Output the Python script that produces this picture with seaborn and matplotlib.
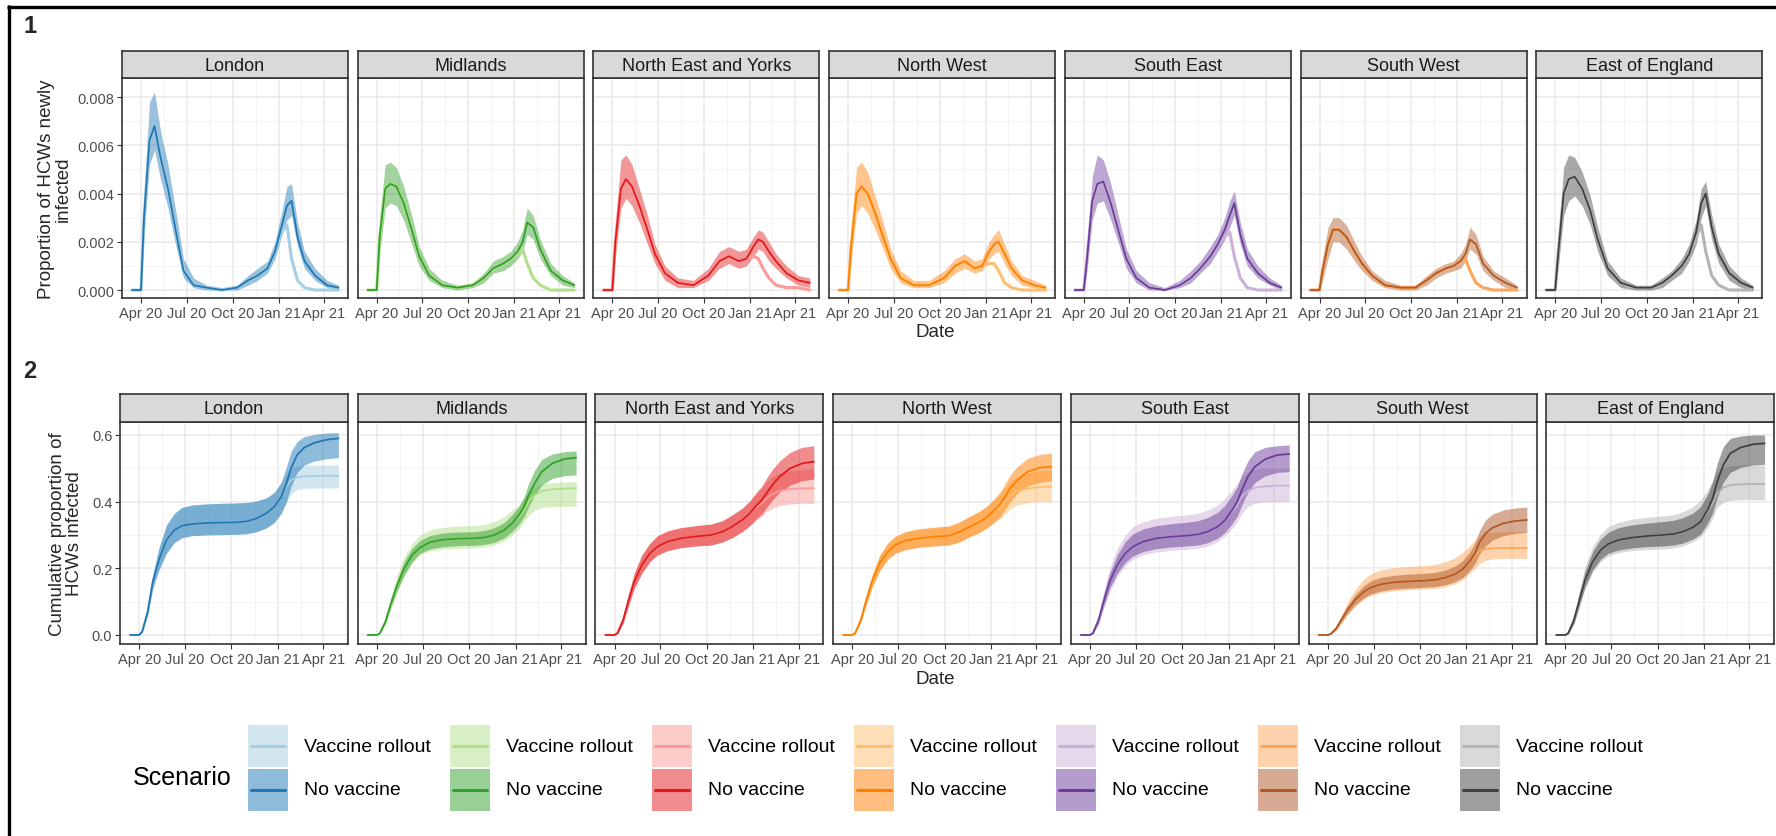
import matplotlib
matplotlib.use("Agg")
import matplotlib.pyplot as plt
import matplotlib.dates as mdates
from matplotlib.ticker import FixedLocator, FormatStrFormatter
from matplotlib.patches import Rectangle
import seaborn as sns
import pandas as pd

sns.set_theme(style="whitegrid")
plt.rcParams['font.family'] = ['Liberation Sans', 'DejaVu Sans']

# ---- data ----
DATES = ["2020-03-14", "2020-04-01", "2020-04-07", "2020-04-18", "2020-04-28", "2020-05-10",
         "2020-05-25", "2020-06-10", "2020-06-25", "2020-07-15", "2020-08-10", "2020-09-10",
         "2020-10-10", "2020-11-01", "2020-11-20", "2020-12-10", "2020-12-25", "2021-01-08",
         "2021-01-18", "2021-01-27", "2021-02-08", "2021-02-22", "2021-03-15", "2021-04-08",
         "2021-05-01"]

REGIONS = ["London", "Midlands", "North East and Yorks", "North West",
           "South East", "South West", "East of England"]
NV_COLORS = ["#1f78b4", "#33a02c", "#e31a1c", "#ff7f00", "#6a3d9a", "#b15928", "#404040"]
VR_COLORS = ["#a6cee3", "#b2df8a", "#fb9a99", "#fdbf6f", "#cab2d6", "#fda65a", "#b4b4b4"]
SCENARIOS = ["Vaccine rollout", "No vaccine"]

# proportion newly infected (no vaccine median + band, vaccine rollout median)
LON_NEW = [0, 0, 0.0030, 0.0062, 0.0068, 0.0055, 0.0042, 0.0024, 0.0008, 0.0002, 0.0001, 0.0, 0.0001,
           0.0004, 0.0006, 0.0009, 0.0016, 0.0027, 0.0035, 0.0037, 0.0022, 0.0012, 0.0006, 0.0002, 0.0001]
LON_NEW_HI = [0, 0, 0.0040, 0.0078, 0.0082, 0.0066, 0.0052, 0.0032, 0.0013, 0.0005, 0.0002, 0.0001, 0.0002,
              0.0006, 0.0009, 0.0012, 0.0020, 0.0033, 0.0043, 0.0044, 0.0028, 0.0016, 0.0009, 0.0004, 0.0002]
LON_NEW_LO = [0, 0, 0.0022, 0.0052, 0.0058, 0.0046, 0.0034, 0.0018, 0.0005, 0.0001, 0, 0, 0,
              0.0002, 0.0004, 0.0007, 0.0013, 0.0023, 0.0029, 0.0031, 0.0018, 0.0009, 0.0004, 0.0001, 0]
LON_NEW_VAX = LON_NEW[:17] + [0.0024, 0.0027, 0.0013, 0.0004, 0.0001, 0, 0, 0]

MID_NEW = [0, 0, 0.0022, 0.0042, 0.0044, 0.0043, 0.0036, 0.0025, 0.0014, 0.0006, 0.0002, 0.0001, 0.0002,
           0.0005, 0.0009, 0.0011, 0.0013, 0.0016, 0.0020, 0.0028, 0.0026, 0.0017, 0.0008, 0.0004, 0.0002]
MID_NEW_HI = [0, 0, 0.0030, 0.0052, 0.0053, 0.0051, 0.0043, 0.0031, 0.0018, 0.0009, 0.0004, 0.0002, 0.0003,
              0.0007, 0.0012, 0.0014, 0.0016, 0.0020, 0.0025, 0.0034, 0.0031, 0.0021, 0.0011, 0.0006, 0.0003]
MID_NEW_LO = [0, 0, 0.0015, 0.0034, 0.0036, 0.0035, 0.0029, 0.0019, 0.0010, 0.0004, 0.0001, 0, 0.0001,
              0.0003, 0.0007, 0.0008, 0.0010, 0.0013, 0.0016, 0.0023, 0.0021, 0.0013, 0.0006, 0.0002, 0.0001]
MID_NEW_VAX = MID_NEW[:17] + [0.0015, 0.0017, 0.0011, 0.0005, 0.0002, 0, 0, 0]

NEY_NEW = [0, 0, 0.0020, 0.0042, 0.0046, 0.0043, 0.0035, 0.0025, 0.0015, 0.0007, 0.0003, 0.0002, 0.0006,
           0.0012, 0.0014, 0.0012, 0.0013, 0.0018, 0.0021, 0.0020, 0.0016, 0.0012, 0.0007, 0.0004, 0.0003]
NEY_NEW_HI = [0, 0, 0.0028, 0.0054, 0.0056, 0.0052, 0.0042, 0.0031, 0.0019, 0.0010, 0.0005, 0.0004, 0.0009,
              0.0016, 0.0018, 0.0016, 0.0017, 0.0022, 0.0025, 0.0024, 0.0020, 0.0015, 0.0010, 0.0006, 0.0005]
NEY_NEW_LO = [0, 0, 0.0014, 0.0034, 0.0038, 0.0035, 0.0028, 0.0019, 0.0011, 0.0004, 0.0001, 0.0001, 0.0004,
              0.0009, 0.0011, 0.0009, 0.0010, 0.0014, 0.0017, 0.0016, 0.0012, 0.0009, 0.0005, 0.0002, 0.0001]
NEY_NEW_VAX = NEY_NEW[:17] + [0.0014, 0.0013, 0.0009, 0.0005, 0.0002, 0.0001, 0.0001, 0]

NW_NEW = [0, 0, 0.0018, 0.0040, 0.0043, 0.0040, 0.0032, 0.0022, 0.0013, 0.0005, 0.0002, 0.0002, 0.0005,
          0.0010, 0.0012, 0.0009, 0.0010, 0.0016, 0.0019, 0.0020, 0.0015, 0.0009, 0.0004, 0.0002, 0.0001]
NW_NEW_HI = [0, 0, 0.0026, 0.0051, 0.0053, 0.0049, 0.0039, 0.0028, 0.0017, 0.0008, 0.0004, 0.0004, 0.0008,
             0.0013, 0.0015, 0.0012, 0.0013, 0.0020, 0.0023, 0.0025, 0.0019, 0.0012, 0.0006, 0.0004, 0.0002]
NW_NEW_LO = [0, 0, 0.0012, 0.0032, 0.0035, 0.0032, 0.0025, 0.0017, 0.0009, 0.0003, 0.0001, 0.0001, 0.0003,
             0.0007, 0.0009, 0.0007, 0.0008, 0.0013, 0.0015, 0.0016, 0.0011, 0.0006, 0.0002, 0.0001, 0]
NW_NEW_VAX = NW_NEW[:17] + [0.0011, 0.0011, 0.0008, 0.0003, 0.0001, 0, 0, 0]

SE_NEW = [0, 0, 0.0012, 0.0037, 0.0044, 0.0045, 0.0036, 0.0024, 0.0013, 0.0005, 0.0001, 0, 0.0002,
          0.0005, 0.0009, 0.0014, 0.0019, 0.0025, 0.0031, 0.0036, 0.0023, 0.0013, 0.0007, 0.0003, 0.0001]
SE_NEW_HI = [0, 0, 0.0018, 0.0047, 0.0056, 0.0054, 0.0044, 0.0030, 0.0017, 0.0008, 0.0003, 0.0001, 0.0004,
             0.0008, 0.0012, 0.0018, 0.0023, 0.0030, 0.0037, 0.0041, 0.0028, 0.0017, 0.0010, 0.0005, 0.0002]
SE_NEW_LO = [0, 0, 0.0007, 0.0029, 0.0036, 0.0037, 0.0029, 0.0019, 0.0009, 0.0003, 0, 0, 0.0001,
             0.0003, 0.0007, 0.0011, 0.0016, 0.0021, 0.0026, 0.0031, 0.0019, 0.0010, 0.0005, 0.0002, 0]
SE_NEW_VAX = SE_NEW[:17] + [0.0022, 0.0024, 0.0014, 0.0005, 0.0001, 0, 0, 0]

SW_NEW = [0, 0, 0.0008, 0.0019, 0.0025, 0.0025, 0.0022, 0.0016, 0.0011, 0.0006, 0.0002, 0.0001, 0.0001,
          0.0004, 0.0007, 0.0009, 0.0010, 0.0012, 0.0015, 0.0021, 0.0019, 0.0011, 0.0006, 0.0003, 0.0001]
SW_NEW_HI = [0, 0, 0.0013, 0.0026, 0.0030, 0.0030, 0.0027, 0.0020, 0.0014, 0.0008, 0.0004, 0.0002, 0.0002,
             0.0006, 0.0009, 0.0011, 0.0012, 0.0015, 0.0019, 0.0026, 0.0023, 0.0014, 0.0008, 0.0005, 0.0002]
SW_NEW_LO = [0, 0, 0.0004, 0.0013, 0.0020, 0.0020, 0.0017, 0.0012, 0.0008, 0.0004, 0.0001, 0, 0,
             0.0002, 0.0005, 0.0007, 0.0008, 0.0009, 0.0012, 0.0017, 0.0015, 0.0008, 0.0004, 0.0001, 0]
SW_NEW_VAX = SW_NEW[:17] + [0.0012, 0.0013, 0.0008, 0.0003, 0.0001, 0, 0, 0]

EOE_NEW = [0, 0, 0.0015, 0.0040, 0.0046, 0.0047, 0.0042, 0.0033, 0.0021, 0.0009, 0.0003, 0.0001, 0.0001,
           0.0003, 0.0006, 0.0010, 0.0015, 0.0024, 0.0036, 0.0040, 0.0026, 0.0015, 0.0007, 0.0003, 0.0001]
EOE_NEW_HI = [0, 0, 0.0022, 0.0051, 0.0056, 0.0055, 0.0049, 0.0039, 0.0026, 0.0012, 0.0005, 0.0002, 0.0002,
              0.0005, 0.0008, 0.0013, 0.0019, 0.0029, 0.0042, 0.0045, 0.0031, 0.0019, 0.0010, 0.0005, 0.0002]
EOE_NEW_LO = [0, 0, 0.0009, 0.0031, 0.0037, 0.0039, 0.0035, 0.0027, 0.0016, 0.0006, 0.0001, 0, 0,
              0.0001, 0.0004, 0.0007, 0.0012, 0.0019, 0.0030, 0.0035, 0.0021, 0.0011, 0.0004, 0.0001, 0]
EOE_NEW_VAX = EOE_NEW[:17] + [0.0022, 0.0027, 0.0016, 0.0006, 0.0002, 0, 0, 0]

# cumulative proportion infected
LON_CUM = [0, 0, 0.01, 0.07, 0.16, 0.225, 0.285, 0.315, 0.328, 0.333, 0.336, 0.337, 0.338,
           0.341, 0.35, 0.366, 0.385, 0.415, 0.455, 0.50, 0.54, 0.562, 0.577, 0.586, 0.59]
LON_CUM_LO = [0, 0, 0.008, 0.06, 0.14, 0.195, 0.245, 0.278, 0.292, 0.298, 0.300, 0.301, 0.302,
              0.304, 0.31, 0.322, 0.338, 0.365, 0.40, 0.445, 0.487, 0.51, 0.522, 0.529, 0.532]
LON_CUM_HI = [0, 0, 0.012, 0.08, 0.18, 0.26, 0.33, 0.365, 0.383, 0.39, 0.393, 0.395, 0.396,
              0.398, 0.402, 0.412, 0.428, 0.46, 0.505, 0.55, 0.58, 0.595, 0.602, 0.606, 0.607]
LON_CUM_VAX = LON_CUM[:17] + [0.415, 0.445, 0.465, 0.473, 0.476, 0.477, 0.478, 0.478]
LON_CUM_VAX_LO = LON_CUM_LO[:17] + [0.37, 0.40, 0.423, 0.436, 0.44, 0.441, 0.441, 0.441]
LON_CUM_VAX_HI = LON_CUM_HI[:17] + [0.455, 0.487, 0.502, 0.508, 0.51, 0.51, 0.51, 0.51]

MID_CUM = [0, 0, 0.005, 0.04, 0.09, 0.145, 0.20, 0.24, 0.262, 0.278, 0.286, 0.289, 0.290,
           0.293, 0.30, 0.315, 0.335, 0.36, 0.385, 0.42, 0.455, 0.49, 0.515, 0.528, 0.532]
MID_CUM_LO = [0, 0, 0.004, 0.035, 0.08, 0.13, 0.18, 0.22, 0.245, 0.258, 0.265, 0.268, 0.269,
              0.272, 0.278, 0.292, 0.31, 0.333, 0.355, 0.385, 0.42, 0.45, 0.47, 0.478, 0.48]
MID_CUM_HI = [0, 0, 0.006, 0.045, 0.10, 0.16, 0.22, 0.26, 0.283, 0.298, 0.306, 0.309, 0.31,
              0.314, 0.322, 0.338, 0.36, 0.387, 0.415, 0.455, 0.495, 0.527, 0.543, 0.55, 0.552]
MID_CUM_VAX = MID_CUM[:17] + [0.355, 0.375, 0.40, 0.42, 0.432, 0.437, 0.439, 0.44]
MID_CUM_VAX_LO = [0, 0, 0.004, 0.03, 0.075, 0.125, 0.175, 0.215, 0.24, 0.252, 0.258, 0.26, 0.261,
                  0.264, 0.27, 0.283, 0.30, 0.32, 0.34, 0.36, 0.375, 0.382, 0.385, 0.386, 0.386]
MID_CUM_VAX_HI = [0, 0, 0.007, 0.05, 0.11, 0.175, 0.235, 0.275, 0.30, 0.315, 0.323, 0.327, 0.328,
                  0.332, 0.34, 0.355, 0.375, 0.39, 0.41, 0.43, 0.445, 0.453, 0.457, 0.459, 0.46]

NEY_CUM = [0, 0, 0.006, 0.045, 0.10, 0.16, 0.21, 0.245, 0.265, 0.28, 0.29, 0.296, 0.30,
           0.31, 0.325, 0.345, 0.365, 0.39, 0.405, 0.425, 0.45, 0.475, 0.50, 0.515, 0.52]
NEY_CUM_LO = [0, 0, 0.004, 0.035, 0.085, 0.14, 0.185, 0.22, 0.24, 0.253, 0.262, 0.267, 0.27,
              0.279, 0.292, 0.31, 0.328, 0.35, 0.363, 0.382, 0.405, 0.428, 0.45, 0.463, 0.468]
NEY_CUM_HI = [0, 0, 0.008, 0.055, 0.12, 0.185, 0.24, 0.275, 0.298, 0.312, 0.322, 0.328, 0.333,
              0.343, 0.36, 0.38, 0.402, 0.43, 0.447, 0.47, 0.497, 0.522, 0.548, 0.563, 0.568]
NEY_CUM_VAX = NEY_CUM[:17] + [0.385, 0.395, 0.41, 0.423, 0.432, 0.438, 0.44, 0.44]
NEY_CUM_VAX_LO = NEY_CUM_LO[:17] + [0.345, 0.355, 0.37, 0.38, 0.388, 0.393, 0.395, 0.395]
NEY_CUM_VAX_HI = NEY_CUM_HI[:17] + [0.425, 0.44, 0.46, 0.475, 0.486, 0.493, 0.497, 0.498]

NW_CUM = [0, 0, 0.006, 0.045, 0.10, 0.16, 0.215, 0.25, 0.27, 0.283, 0.29, 0.295, 0.298,
          0.31, 0.325, 0.34, 0.355, 0.375, 0.39, 0.41, 0.44, 0.465, 0.49, 0.502, 0.505]
NW_CUM_LO = [0, 0, 0.005, 0.038, 0.088, 0.142, 0.192, 0.226, 0.245, 0.256, 0.263, 0.267, 0.27,
             0.28, 0.295, 0.308, 0.322, 0.34, 0.353, 0.372, 0.40, 0.425, 0.448, 0.458, 0.462]
NW_CUM_HI = [0, 0, 0.007, 0.052, 0.113, 0.178, 0.238, 0.275, 0.296, 0.31, 0.318, 0.323, 0.327,
             0.34, 0.356, 0.372, 0.388, 0.41, 0.427, 0.448, 0.48, 0.505, 0.53, 0.542, 0.546]
NW_CUM_VAX = NW_CUM[:17] + [0.372, 0.383, 0.398, 0.418, 0.432, 0.44, 0.444, 0.445]
NW_CUM_VAX_LO = NW_CUM_LO[:17] + [0.338, 0.348, 0.36, 0.378, 0.39, 0.397, 0.40, 0.40]
NW_CUM_VAX_HI = NW_CUM_HI[:17] + [0.407, 0.42, 0.437, 0.458, 0.475, 0.487, 0.493, 0.495]

SE_CUM = [0, 0, 0.006, 0.045, 0.10, 0.16, 0.21, 0.245, 0.265, 0.28, 0.29, 0.295, 0.298,
          0.302, 0.31, 0.325, 0.345, 0.375, 0.40, 0.435, 0.475, 0.505, 0.528, 0.54, 0.543]
SE_CUM_LO = [0, 0, 0.004, 0.035, 0.085, 0.14, 0.185, 0.218, 0.237, 0.25, 0.259, 0.264, 0.267,
             0.27, 0.277, 0.29, 0.308, 0.335, 0.357, 0.39, 0.428, 0.458, 0.478, 0.488, 0.49]
SE_CUM_HI = [0, 0, 0.008, 0.055, 0.12, 0.185, 0.24, 0.28, 0.303, 0.318, 0.328, 0.334, 0.338,
             0.343, 0.352, 0.368, 0.39, 0.42, 0.445, 0.482, 0.522, 0.55, 0.563, 0.568, 0.57]
SE_CUM_VAX = SE_CUM[:17] + [0.37, 0.39, 0.415, 0.432, 0.442, 0.446, 0.448, 0.448]
SE_CUM_VAX_LO = [0, 0, 0.004, 0.03, 0.08, 0.13, 0.175, 0.208, 0.227, 0.24, 0.249, 0.254, 0.257,
                 0.26, 0.267, 0.28, 0.297, 0.32, 0.34, 0.365, 0.385, 0.395, 0.399, 0.40, 0.40]
SE_CUM_VAX_HI = [0, 0, 0.009, 0.06, 0.13, 0.20, 0.26, 0.30, 0.325, 0.34, 0.35, 0.356, 0.36,
                 0.365, 0.375, 0.39, 0.41, 0.435, 0.455, 0.475, 0.49, 0.497, 0.50, 0.50, 0.50]

SW_CUM = [0, 0, 0.003, 0.02, 0.045, 0.075, 0.105, 0.128, 0.142, 0.152, 0.158, 0.161, 0.163,
          0.166, 0.172, 0.183, 0.198, 0.222, 0.245, 0.278, 0.305, 0.322, 0.335, 0.342, 0.345]
SW_CUM_LO = [0, 0, 0.002, 0.016, 0.038, 0.064, 0.09, 0.11, 0.123, 0.132, 0.138, 0.141, 0.143,
             0.146, 0.151, 0.16, 0.173, 0.194, 0.214, 0.243, 0.268, 0.285, 0.298, 0.305, 0.308]
SW_CUM_HI = [0, 0, 0.004, 0.025, 0.053, 0.087, 0.12, 0.146, 0.162, 0.173, 0.179, 0.183, 0.185,
             0.188, 0.195, 0.207, 0.224, 0.25, 0.276, 0.313, 0.345, 0.363, 0.375, 0.381, 0.384]
SW_CUM_VAX = SW_CUM[:17] + [0.22, 0.237, 0.252, 0.258, 0.26, 0.261, 0.261, 0.261]
SW_CUM_VAX_LO = [0, 0, 0.002, 0.014, 0.035, 0.06, 0.085, 0.105, 0.118, 0.127, 0.133, 0.136, 0.138,
                 0.14, 0.145, 0.154, 0.166, 0.185, 0.20, 0.215, 0.224, 0.228, 0.23, 0.23, 0.23]
SW_CUM_VAX_HI = [0, 0, 0.004, 0.028, 0.06, 0.097, 0.135, 0.165, 0.183, 0.195, 0.202, 0.206, 0.208,
                 0.212, 0.22, 0.232, 0.248, 0.268, 0.285, 0.298, 0.305, 0.308, 0.31, 0.31, 0.31]

EOE_CUM = [0, 0, 0.006, 0.045, 0.10, 0.165, 0.22, 0.255, 0.273, 0.285, 0.292, 0.297, 0.30,
           0.303, 0.31, 0.323, 0.34, 0.375, 0.41, 0.46, 0.51, 0.545, 0.563, 0.572, 0.575]
EOE_CUM_LO = [0, 0, 0.004, 0.035, 0.085, 0.145, 0.195, 0.228, 0.245, 0.255, 0.261, 0.265, 0.267,
              0.27, 0.276, 0.288, 0.303, 0.335, 0.367, 0.412, 0.458, 0.488, 0.503, 0.51, 0.512]
EOE_CUM_HI = [0, 0, 0.008, 0.055, 0.12, 0.19, 0.25, 0.288, 0.308, 0.322, 0.33, 0.336, 0.34,
              0.344, 0.352, 0.366, 0.385, 0.422, 0.46, 0.515, 0.565, 0.59, 0.597, 0.60, 0.60]
EOE_CUM_VAX = EOE_CUM[:17] + [0.37, 0.395, 0.425, 0.442, 0.45, 0.452, 0.453, 0.453]
EOE_CUM_VAX_LO = [0, 0, 0.004, 0.032, 0.08, 0.138, 0.188, 0.22, 0.237, 0.247, 0.253, 0.256, 0.258,
                  0.261, 0.267, 0.279, 0.294, 0.322, 0.35, 0.383, 0.398, 0.404, 0.406, 0.406, 0.406]
EOE_CUM_VAX_HI = [0, 0, 0.009, 0.06, 0.13, 0.205, 0.265, 0.303, 0.325, 0.338, 0.347, 0.353, 0.357,
                  0.361, 0.37, 0.385, 0.405, 0.435, 0.465, 0.49, 0.503, 0.508, 0.51, 0.51, 0.51]

NEW_DATA = [
    (LON_NEW, LON_NEW_LO, LON_NEW_HI, LON_NEW_VAX),
    (MID_NEW, MID_NEW_LO, MID_NEW_HI, MID_NEW_VAX),
    (NEY_NEW, NEY_NEW_LO, NEY_NEW_HI, NEY_NEW_VAX),
    (NW_NEW, NW_NEW_LO, NW_NEW_HI, NW_NEW_VAX),
    (SE_NEW, SE_NEW_LO, SE_NEW_HI, SE_NEW_VAX),
    (SW_NEW, SW_NEW_LO, SW_NEW_HI, SW_NEW_VAX),
    (EOE_NEW, EOE_NEW_LO, EOE_NEW_HI, EOE_NEW_VAX),
]
CUM_DATA = [
    (LON_CUM, LON_CUM_LO, LON_CUM_HI, LON_CUM_VAX, LON_CUM_VAX_LO, LON_CUM_VAX_HI),
    (MID_CUM, MID_CUM_LO, MID_CUM_HI, MID_CUM_VAX, MID_CUM_VAX_LO, MID_CUM_VAX_HI),
    (NEY_CUM, NEY_CUM_LO, NEY_CUM_HI, NEY_CUM_VAX, NEY_CUM_VAX_LO, NEY_CUM_VAX_HI),
    (NW_CUM, NW_CUM_LO, NW_CUM_HI, NW_CUM_VAX, NW_CUM_VAX_LO, NW_CUM_VAX_HI),
    (SE_CUM, SE_CUM_LO, SE_CUM_HI, SE_CUM_VAX, SE_CUM_VAX_LO, SE_CUM_VAX_HI),
    (SW_CUM, SW_CUM_LO, SW_CUM_HI, SW_CUM_VAX, SW_CUM_VAX_LO, SW_CUM_VAX_HI),
    (EOE_CUM, EOE_CUM_LO, EOE_CUM_HI, EOE_CUM_VAX, EOE_CUM_VAX_LO, EOE_CUM_VAX_HI),
]

dates = pd.to_datetime(DATES)

# ---- layout (pixels) ----
W, H = 1776, 837
fig = plt.figure(figsize=(W / 100, H / 100), dpi=100)


def box(x, y, w, h):
    return [x / W, 1 - (y + h) / H, w / W, h / H]


XLIM = (pd.Timestamp("2020-02-23"), pd.Timestamp("2021-05-20"))
XMAJ = [mdates.date2num(pd.Timestamp(d)) for d in
        ["2020-04-01", "2020-07-01", "2020-10-01", "2021-01-01", "2021-04-01"]]
XMIN = [mdates.date2num(pd.Timestamp(d)) for d in
        ["2020-02-15", "2020-05-16", "2020-08-16", "2020-11-16", "2021-02-15", "2021-05-16"]]
EDGE = "#333333"


def style_panel(ax, ylim, ymaj, ymin, fmt, show_y):
    ax.set_facecolor("white")
    ax.set_xlim(XLIM)
    ax.set_ylim(ylim)
    ax.xaxis.set_major_locator(FixedLocator(XMAJ))
    ax.xaxis.set_minor_locator(FixedLocator(XMIN))
    ax.xaxis.set_major_formatter(mdates.DateFormatter("%b %y"))
    ax.yaxis.set_major_locator(FixedLocator(ymaj))
    ax.yaxis.set_minor_locator(FixedLocator(ymin))
    ax.yaxis.set_major_formatter(FormatStrFormatter(fmt))
    ax.grid(which="major", color="#ebebeb", lw=1.2)
    ax.grid(which="minor", color="#f3f3f3", lw=0.7)
    ax.set_axisbelow(True)
    for s in ax.spines.values():
        s.set_visible(True)
        s.set_color(EDGE)
        s.set_linewidth(1.2)
    ax.tick_params(which="major", bottom=True, left=show_y, labelleft=show_y,
                   length=3.5, width=0.8, color=EDGE, labelsize=10.5,
                   labelcolor="#4d4d4d", pad=2)
    ax.tick_params(which="minor", length=0)
    ax.set_xlabel("")
    ax.set_ylabel("")


def strip(x, y, w, h, name):
    sax = fig.add_axes(box(x, y, w, h))
    sax.set_facecolor("#d9d9d9")
    sax.set_xticks([])
    sax.set_yticks([])
    sax.grid(False)
    for s in sax.spines.values():
        s.set_visible(True)
        s.set_color(EDGE)
        s.set_linewidth(1.2)
    sax.text(0.5, 0.47, name, ha="center", va="center", fontsize=13, color="#1a1a1a",
             transform=sax.transAxes)


# row 1: newly infected
for i, name in enumerate(REGIONS):
    x0 = 122 + i * 235.7
    ax = fig.add_axes(box(x0, 79, 226, 220))
    nv, lo, hi, vr = NEW_DATA[i]
    sns.lineplot(x=dates, y=vr, ax=ax, color=VR_COLORS[i], lw=2.2)
    ax.fill_between(dates, lo, hi, color=NV_COLORS[i], alpha=0.45, lw=0)
    sns.lineplot(x=dates, y=nv, ax=ax, color=NV_COLORS[i], lw=1.3)
    style_panel(ax, (-0.00033, 0.00879), [0, 0.002, 0.004, 0.006, 0.008],
                [0.001, 0.003, 0.005, 0.007], "%.3f", i == 0)
    strip(x0, 52, 226, 27, name)

# row 2: cumulative
for i, name in enumerate(REGIONS):
    x0 = 120 + i * 237.7
    ax = fig.add_axes(box(x0, 423, 228, 222))
    nv, lo, hi, vr, vlo, vhi = CUM_DATA[i]
    ax.fill_between(dates, vlo, vhi, color=VR_COLORS[i], alpha=0.5, lw=0)
    ax.fill_between(dates, lo, hi, color=NV_COLORS[i], alpha=0.5, lw=0)
    sns.lineplot(x=dates, y=vr, ax=ax, color=VR_COLORS[i], lw=1.3)
    sns.lineplot(x=dates, y=nv, ax=ax, color=NV_COLORS[i], lw=1.3)
    style_panel(ax, (-0.027, 0.639), [0, 0.2, 0.4, 0.6], [0.1, 0.3, 0.5], "%.1f", i == 0)
    strip(x0, 395, 228, 28, name)

# axis titles
fig.text(935 / W, 1 - 333 / H, "Date", ha="center", va="center", fontsize=13.5)
fig.text(935 / W, 1 - 679 / H, "Date", ha="center", va="center", fontsize=13.5)
fig.text(55 / W, 1 - 189 / H, "Proportion of HCWs newly\ninfected", rotation=90,
         ha="center", va="center", fontsize=13.5, linespacing=1.0, multialignment="center")
fig.text(66 / W, 1 - 534 / H, "Cumulative proportion of\nHCWs infected", rotation=90,
         ha="center", va="center", fontsize=13.5, linespacing=1.0, multialignment="center")

# overlay for legend, panel tags and border
lax = fig.add_axes([0, 0, 1, 1])
lax.set_xlim(0, W)
lax.set_ylim(H, 0)
lax.axis("off")
lax.patch.set_alpha(0)

lax.plot([8.5, 8.5], [6, H], color="black", lw=2.4, solid_capstyle="butt")
lax.plot([7, W], [7.5, 7.5], color="black", lw=2.4, solid_capstyle="butt")
lax.text(30, 26, "1", fontsize=17, fontweight="bold", ha="center", va="center")
lax.text(30, 371, "2", fontsize=17, fontweight="bold", ha="center", va="center")

lax.text(182, 778, "Scenario", fontsize=18, ha="center", va="center", color="black")
for i in range(len(REGIONS)):
    kx = 248 + i * 202
    for j, (scen, col, fill) in enumerate([(SCENARIOS[0], VR_COLORS[i], VR_COLORS[i]),
                                            (SCENARIOS[1], NV_COLORS[i], NV_COLORS[i])]):
        ky = 726 + j * 44
        lax.add_patch(Rectangle((kx, ky), 40, 42, facecolor=fill, alpha=0.5, edgecolor="none"))
        lax.plot([kx + 3, kx + 37], [ky + 21, ky + 21], color=col, lw=2.2)
        lax.text(kx + 56, ky + 21, scen, fontsize=14, ha="left", va="center", color="black")

fig.savefig("out.png", dpi=100)
